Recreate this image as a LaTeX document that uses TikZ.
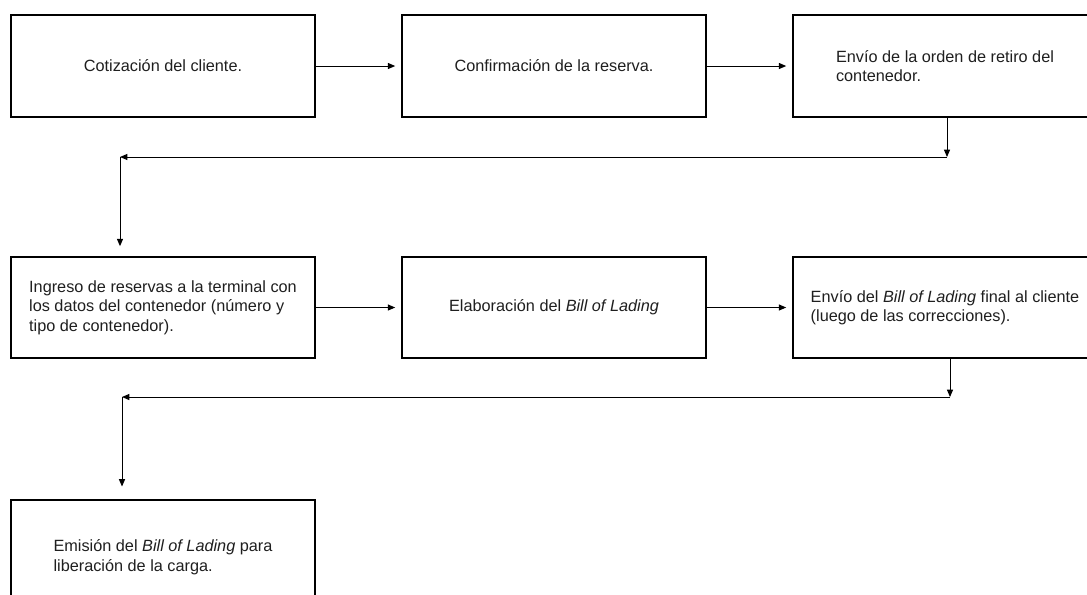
\documentclass[tikz,border=0pt]{standalone}
\usepackage{fontspec}
\setmainfont{Liberation Sans}
\usetikzlibrary{arrows.meta}
\begin{document}
\begin{tikzpicture}[x=0.75pt,y=-0.75pt,
  stepbox/.style={draw=black, line width=1.2pt, minimum width=228pt,
    minimum height=76.5pt, align=left, inner sep=0pt, text=black!88,
    font=\fontsize{12.2pt}{14.6pt}\selectfont},
  flow/.style={draw=black, line width=0.75pt,
    -{Triangle[length=5.5pt,width=4.5pt]}},
]
% page
\fill[white] (0,0) rectangle (1087,594);
\useasboundingbox (0,0) rectangle (1087,594);

% first row
\node[stepbox] (b1) at (163,66) {Cotización del cliente.};
\node[stepbox] (b2) at (554,66) {Confirmación de la reserva.};
\node[stepbox] (b3) at (945,66) {Envío de la orden de retiro del\\contenedor.};

% second row
\node[stepbox, minimum height=75.75pt] (b4) at (163,307.5)
  {Ingreso de reservas a la terminal con\\los datos del contenedor (número y\\tipo de contenedor).};
\node[stepbox, minimum height=75.75pt] (b5) at (554,307.5)
  {Elaboración del \textit{Bill of Lading}};
\node[stepbox, minimum height=75.75pt] (b6) at (945,307.5)
  {Envío del \textit{Bill of Lading} final al cliente\\(luego de las correcciones).};

% third row
\node[stepbox, minimum height=85.5pt] (b7) at (163,557)
  {Emisión del \textit{Bill of Lading} para\\liberación de la carga.};

% bends of the return lines
\coordinate (r1) at (947,157);
\coordinate (l1) at (120,157);
\coordinate (r2) at (950,397);
\coordinate (l2) at (122,397);

% connectors
\draw[flow, shorten >=4.5pt] (b1.east) -- (b2.west);
\draw[flow, shorten >=4.5pt] (b2.east) -- (b3.west);
\draw[flow] (b3.south -| r1) -- (r1);
\draw[flow] (r1) -- (l1);
\draw[flow, shorten >=7.5pt] (l1) -- (l1 |- b4.north);

\draw[flow, shorten >=4.5pt] (b4.east) -- (b5.west);
\draw[flow, shorten >=4.5pt] (b5.east) -- (b6.west);
\draw[flow] (b6.south -| r2) -- (r2);
\draw[flow] (r2) -- (l2);
\draw[flow, shorten >=9.5pt] (l2) -- (l2 |- b7.north);
\end{tikzpicture}
\end{document}
